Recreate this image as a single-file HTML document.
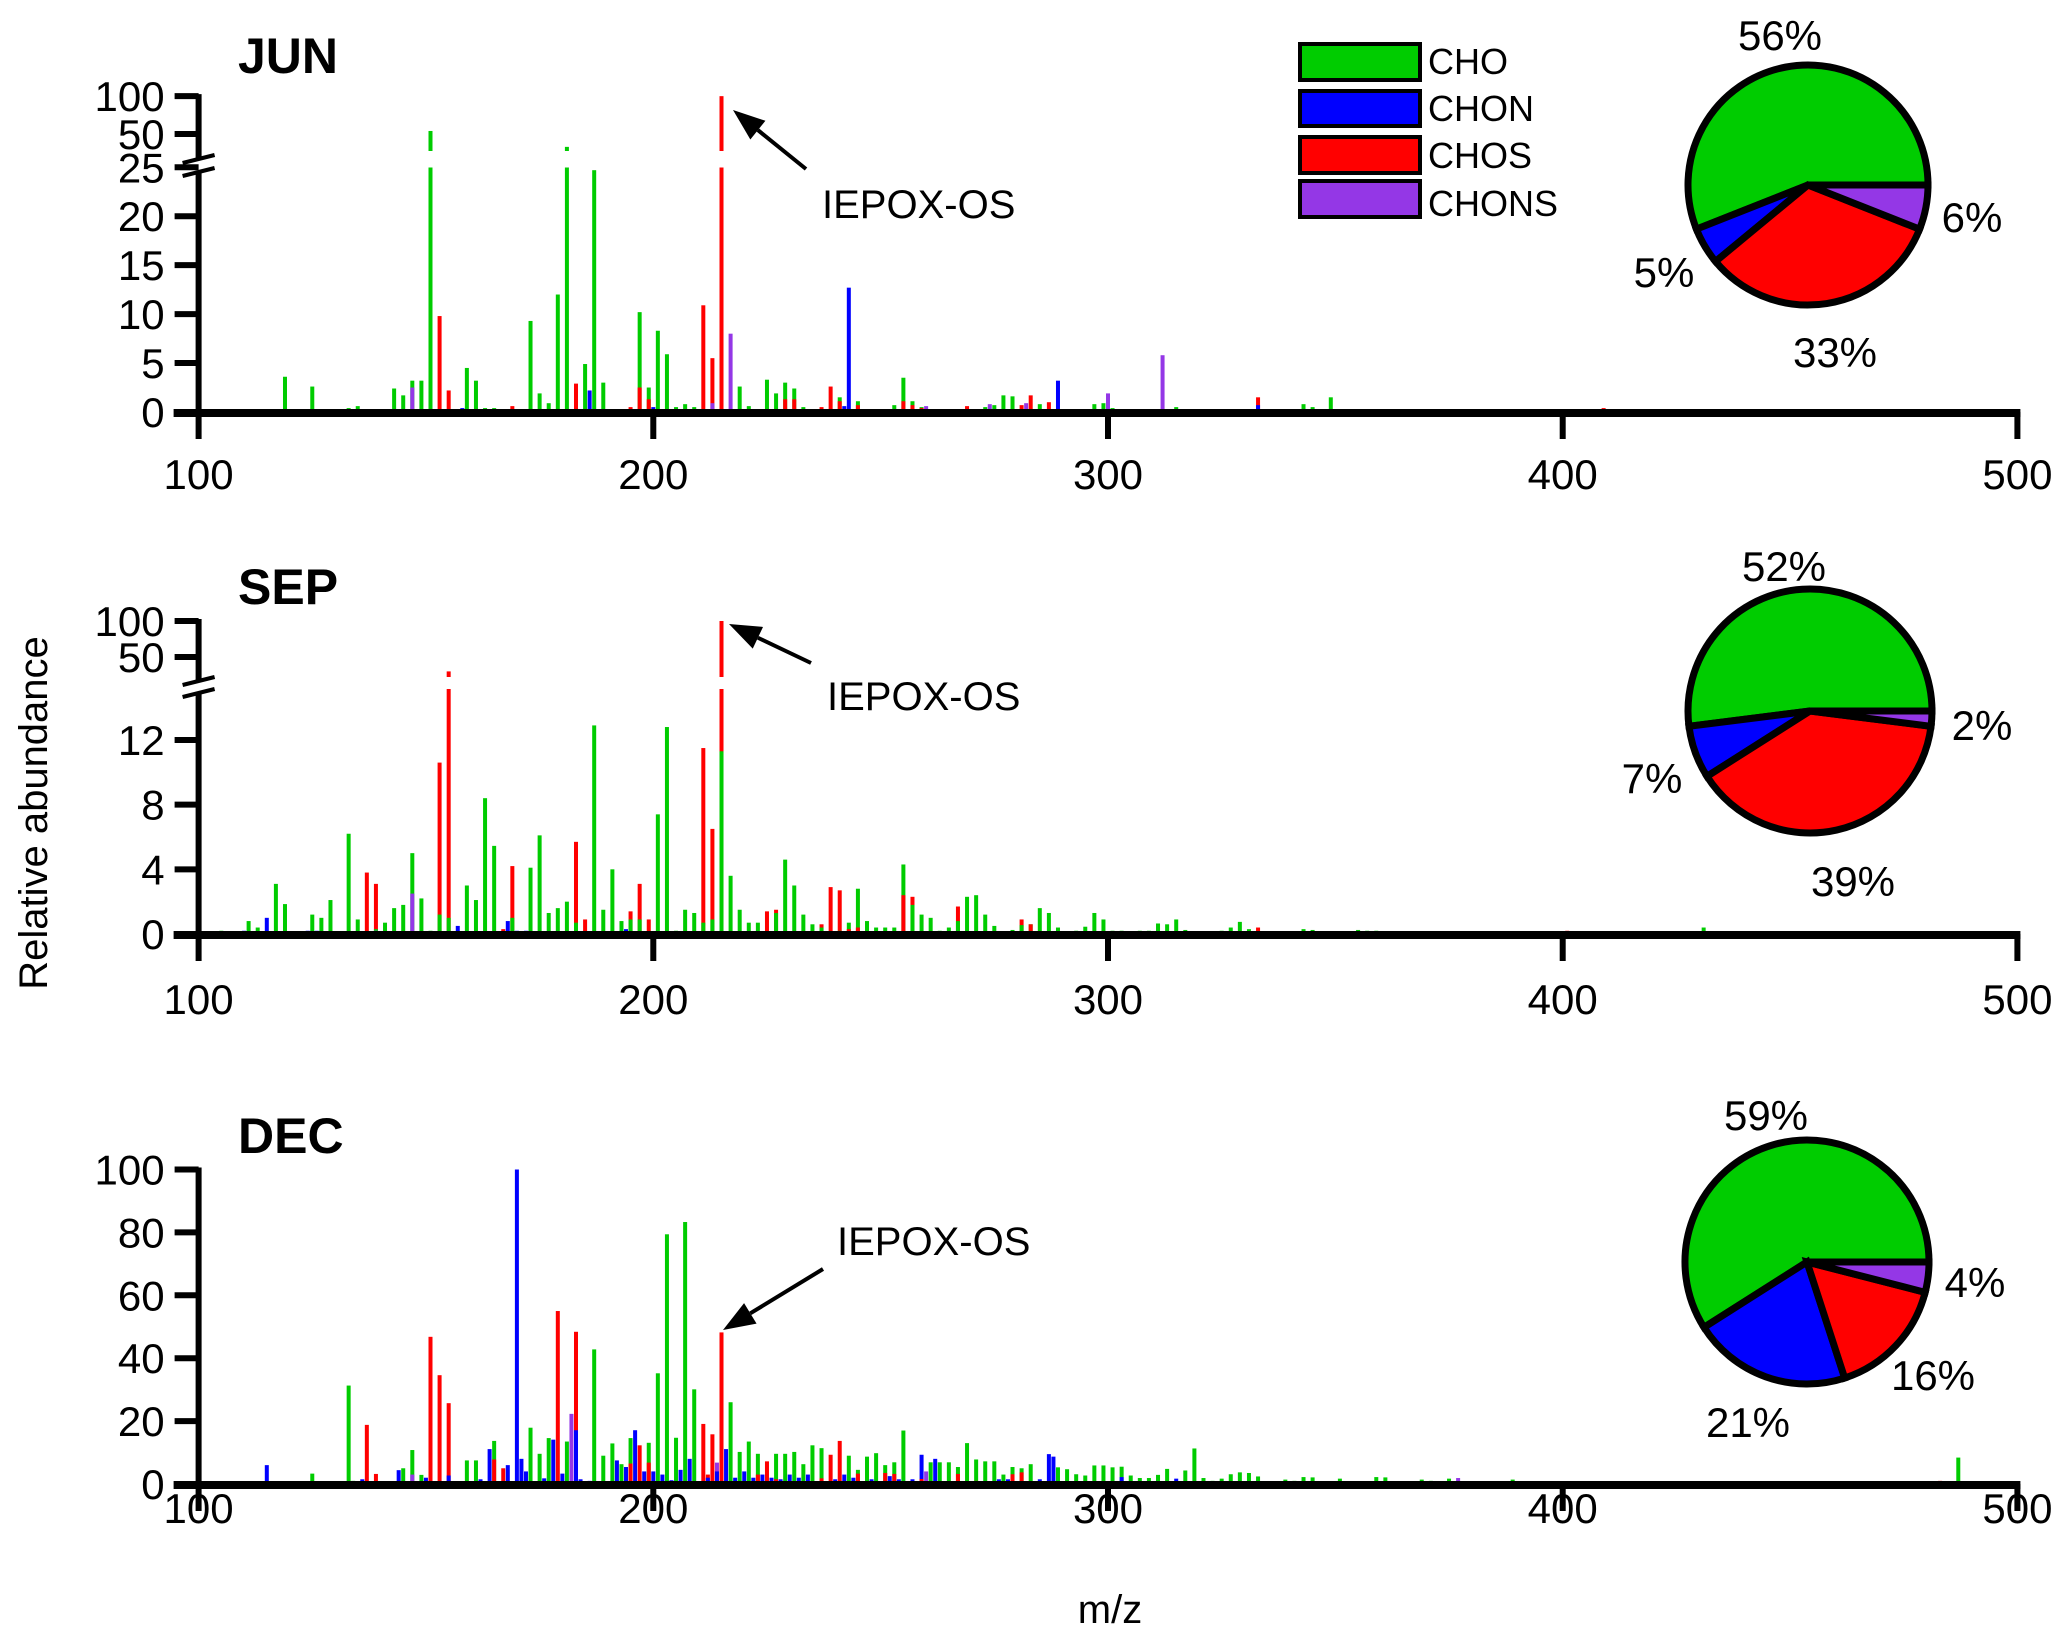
<!DOCTYPE html>
<html><head><meta charset="utf-8">
<style>
html,body{margin:0;padding:0;background:#fff;}
svg{display:block;font-family:"Liberation Sans",Arial,sans-serif;}
</style></head>
<body>
<svg id="chart" width="2067" height="1639" viewBox="0 0 2067 1639" xmlns="http://www.w3.org/2000/svg">
<rect width="2067" height="1639" fill="#fff"/>
<g id="layer"></g>
<text x="0" y="0" font-size="40" transform="translate(47,813) rotate(-90)" text-anchor="middle">Relative abundance</text>
<text x="1110" y="1623" font-size="40" text-anchor="middle">m/z</text>
<g>
<rect x="1300" y="44" width="120" height="36" fill="#00cc00" stroke="#000" stroke-width="4"/>
<rect x="1300" y="91" width="120" height="35" fill="#0000ff" stroke="#000" stroke-width="4"/>
<rect x="1300" y="137" width="120" height="36" fill="#ff0000" stroke="#000" stroke-width="4"/>
<rect x="1300" y="181" width="120" height="36" fill="#9437e6" stroke="#000" stroke-width="4"/>
<text x="1428" y="74" font-size="36">CHO</text>
<text x="1428" y="121" font-size="36">CHON</text>
<text x="1428" y="168" font-size="36">CHOS</text>
<text x="1428" y="216" font-size="36">CHONS</text>
</g>
</svg>
<script>
// ---- data ----
const xTicks = [100, 200, 300, 400, 500];
const junCHOmz  = [119,125,133,135,143,145,147,149,151,159,161,163,165,173,175,177,179,181,185,187,189,191,193,197,199,201,203,205,207,209,219,221,225,227,229,231,233,241,245,247,253,255,257,259,273,275,277,279,285,297,299,301,311,315,331,343,345,349,361];
const junCHOval = [3.6,2.6,0.4,0.6,2.4,1.7,3.2,3.2,54,4.5,3.2,0.4,0.4,9.3,1.9,0.9,12,33,4.9,24.7,3,0.3,0.3,10.2,2.5,8.3,5.9,0.5,0.8,0.5,2.6,0.6,3.3,1.9,3,2.4,0.5,1.5,1.1,0.3,0.7,3.5,1.1,0.5,0.5,0.7,1.7,1.6,0.8,0.8,0.9,0.4,0.3,0.5,0.3,0.8,0.5,1.5,0.3];
const junCHONmz  = [158,186,200,242,243,263,289,333,359];
const junCHONval = [0.4,2.2,0.5,0.6,12.7,0.3,3.2,0.7,0.3];
const junCHOSmz  = [153,155,169,183,195,197,199,211,213,215,229,231,237,239,241,245,255,257,259,269,281,283,287,333,409,437];
const junCHOSval = [9.8,2.2,0.6,2.9,0.5,2.5,1.3,10.9,5.5,100,1.3,1.3,0.5,2.6,1.1,0.7,1.1,0.7,0.4,0.6,0.7,1.7,1.0,1.5,0.4,0.2];
const junCHONSmz  = [147,180,213,217,260,274,282,300,312];
const junCHONSval = [2.5,0.3,0.9,8,0.6,0.8,0.9,1.9,5.8];

const sepCHOmz  = [103,105,109,111,113,117,119,125,127,129,133,135,139,141,143,145,147,149,151,153,155,159,161,163,165,169,173,175,177,179,181,183,187,189,191,193,195,197,201,203,205,207,209,211,213,215,217,219,221,223,227,229,231,233,235,237,241,243,245,247,249,251,253,255,257,259,261,263,265,267,269,271,273,275,277,279,281,283,285,287,289,291,293,295,297,299,301,303,307,309,311,313,315,317,325,327,329,331,339,341,343,345,355,357,359,369,371,389,431];
const sepCHOval = [0.1,0.2,0.1,0.8,0.4,3.1,1.85,1.2,1.0,2.1,6.2,0.9,0.3,0.7,1.6,1.8,5.0,2.2,0.2,1.2,1.0,3.0,2.1,8.4,5.45,1.0,4.1,6.1,1.3,1.6,2.0,0.7,12.9,1.5,4.0,0.8,0.9,0.9,7.4,12.8,0.2,1.5,1.3,0.7,0.9,11.3,3.6,1.5,0.7,0.7,1.3,4.6,3.0,1.2,0.6,0.4,0.2,0.7,2.8,0.8,0.4,0.4,0.4,4.3,1.8,1.2,1.0,0.2,0.4,0.8,2.3,2.4,1.2,0.5,0.1,0.25,0.55,0.6,1.6,1.3,0.4,0.1,0.2,0.45,1.3,0.9,0.2,0.2,0.2,0.2,0.65,0.6,0.9,0.25,0.2,0.4,0.75,0.3,0.1,0.15,0.3,0.25,0.25,0.2,0.2,0.1,0.12,0.1,0.4];
const sepCHONmz  = [110,115,124,126,130,157,168,170,172,176,185,188,194,200,206,214,228,230,242,256];
const sepCHONval = [0.2,1.0,0.2,0.2,0.1,0.5,0.8,0.2,0.2,0.1,0.1,0.15,0.3,0.1,0.1,0.1,0.1,0.1,0.1,0.1];
const sepCHOSmz  = [137,139,153,155,167,169,183,185,195,197,199,211,213,215,225,227,237,239,241,243,245,255,257,267,281,283,333,401];
const sepCHOSval = [3.8,3.1,10.6,30,0.3,4.2,5.7,0.9,1.4,3.1,0.9,11.5,6.5,100,1.4,1.5,0.6,2.9,2.7,0.3,0.4,2.4,2.3,1.7,0.9,0.6,0.4,0.2];
const sepCHONSmz  = [139,147,299];
const sepCHONSval = [0.2,2.5,0.1];

const decCHOmz  = [125,133,134,145,147,149,159,161,165,173,175,177,181,187,189,191,193,195,199,201,203,205,207,209,217,219,221,223,227,229,231,233,235,237,243,245,247,249,251,253,255,261,263,265,267,269,271,273,275,277,279,281,283,289,291,293,295,297,299,301,303,305,307,309,311,313,317,319,321,323,325,327,329,331,333,335,337,339,341,343,345,349,351,353,355,359,361,367,369,371,375,381,389,401,487];
const decCHOval = [3.3,31.3,1,5.0,10.8,2.9,7.5,7.5,13.7,17.9,9.6,14.6,13.5,42.8,9,12.9,6.3,14.6,13.1,35.2,79.4,14.7,83.3,30.1,26,10.2,13.5,9.6,9.6,9.6,10.2,6.3,12.3,11.4,9,4.5,8.7,9.8,6,6.9,17,6.9,6.9,6.9,5.4,13,7.8,7.2,7.2,3,5.4,5,6.3,5.3,4.7,3.1,2.7,5.9,5.9,5.3,5.5,2.7,1.9,1.9,2.9,4.8,4.3,11.3,1.9,1,1.7,3.1,3.7,3.5,2.4,0.8,0.8,1.4,1,2.2,2.1,0.8,1.7,0.5,0.5,2.2,2.1,0.5,1.4,1.0,1.7,0.5,1.4,0.5,8.4];
const decCHONmz  = [115,128,136,144,150,155,158,162,164,168,170,171,172,176,178,180,183,184,186,190,192,194,196,198,200,202,204,206,208,212,214,216,218,220,222,224,226,228,230,232,234,240,242,244,248,252,254,257,259,262,276,278,285,287,288,303,306,315];
const decCHONval = [6,0.5,1.5,4.4,2,2.7,0.5,1.5,11.1,6,100,8,4,1.8,14.1,3.3,17.1,1.5,1,0.8,7.5,5.4,17.1,4,4,3,1.2,4.5,8,2,4,11.1,2,4,2,3,2,1.5,3,2,3,1.5,3,2,1.5,2.5,1.5,1.5,9.3,8,1.5,1.5,1.5,9.5,8.7,2.2,0.5,1.7,6.3];
const decCHOSmz  = [137,139,151,153,155,165,167,179,183,195,197,199,211,212,213,215,223,225,227,237,239,241,245,251,253,259,267,271,279,281,295,303,451,465,483,493];
const decCHOSval = [18.8,3.2,46.8,34.6,25.7,7.8,5,55,48.4,6.5,12.3,6.8,19.1,3,15.8,48.2,3,7.2,1.5,1.8,9.3,13.7,3.3,3.5,3.2,1.6,3.2,1,3.1,3.7,0.8,0.8,0.3,0.8,1,0.8];
const decCHONSmz  = [147,182,214,260,377];
const decCHONSval = [3,22.3,6.8,4,1.9];

const pieLabels = ['CHO','CHON','CHOS','CHONS'];
const junPie = [56,5,33,6];
const sepPie = [52,7,39,2];
const decPie = [59,21,16,4];

// ---- drawing ----
const NS = 'http://www.w3.org/2000/svg';
const layer = document.getElementById('layer');
const colors = {CHO:'#00cc00', CHON:'#0000ff', CHOS:'#ff0000', CHONS:'#9437e6'};
const X0 = 198.6, XS = 4.547;
function xs(mz){ return X0 + (mz - 100) * XS; }
function mk(tag, attrs, parent){
  const e = document.createElementNS(NS, tag);
  for (const k in attrs) e.setAttribute(k, attrs[k]);
  (parent || layer).appendChild(e);
  return e;
}

const panels = [
 {id:'jun', title:'JUN', titleY:73, base:412, lowPer:9.79, lowMax:25, gapLo:167.5, gapHi:151, up50:134, upPer:0.757,
  yTicks:[0,5,10,15,20,25], upTicks:[50,100], xLabY:489, slashY:[161,174],
  data:[['CHO',junCHOmz,junCHOval],['CHON',junCHONmz,junCHONval],['CHOS',junCHOSmz,junCHOSval],['CHONS',junCHONSmz,junCHONSval]],
  pie:junPie, pc:[1808,185,120], lbl:[[1780,50],[1664,287],[1835,367],[1972,232]],
  iep:[822,218], arrow:[806,169,733,110]},
 {id:'sep', title:'SEP', titleY:604, base:934, lowPer:16.17, lowMax:15.2, gapLo:689, gapHi:677, up50:657, upPer:0.72,
  yTicks:[0,4,8,12], upTicks:[50,100], xLabY:1014, slashY:[683,695],
  data:[['CHO',sepCHOmz,sepCHOval],['CHON',sepCHONmz,sepCHONval],['CHOS',sepCHOSmz,sepCHOSval],['CHONS',sepCHONSmz,sepCHONSval]],
  pie:sepPie, pc:[1810,711,122], lbl:[[1784,581],[1652,793],[1853,896],[1982,740]],
  iep:[827,710], arrow:[811,663,729,624]},
 {id:'dec', title:'DEC', titleY:1153, base:1484, lowPer:3.145, lowMax:1000,
  yTicks:[0,20,40,60,80,100], upTicks:[], xLabY:1523, slashY:null,
  data:[['CHO',decCHOmz,decCHOval],['CHON',decCHONmz,decCHONval],['CHOS',decCHOSmz,decCHOSval],['CHONS',decCHONSmz,decCHONSval]],
  pie:decPie, pc:[1807,1262,122], lbl:[[1766,1130],[1748,1437],[1933,1390],[1975,1297]],
  iep:[837,1255], arrow:[823,1269,723,1330]}
];

panels.forEach(p => {
  const g = mk('g', {});
  
  
  const t = mk('text', {x:238, y:p.titleY, 'font-size':50, 'font-weight':'bold'}, g);
  t.textContent = p.title;
  
  

  // bars
  const bars = [];
  p.data.forEach(([cls, mzs, vals]) => mzs.forEach((m, i) => bars.push({cls, m, v: vals[i]})));
  bars.sort((a, b) => b.v - a.v);
  const bg = mk('g', {}, g);
  
  
  bars.forEach(b => {
    const x = xs(b.m) - 2;
    const c = colors[b.cls];
    if (b.v > p.lowMax) {
      const r1 = mk('rect', {x, y:p.gapLo, width:4, height:p.base - p.gapLo, fill:c}, bg);
      
      
      const yt = p.up50 - (b.v - 50) * p.upPer;
      const r2 = mk('rect', {x, y:yt, width:4, height:Math.max(1, p.gapHi - yt), fill:c}, bg);
      
      
    } else {
      const h = Math.max(1, b.v * p.lowPer);
      const r = mk('rect', {x, y:p.base - h, width:4, height:h, fill:c}, bg);
      
      
    }
  });

  // axes
  const topY = p.upTicks.length ? p.up50 - 50 * p.upPer : p.base - 100 * p.lowPer;
  const ax = mk('g', {stroke:'#000', 'stroke-width':6, fill:'none'}, g);
  
  
  if (p.slashY) {
    mk('line', {x1:X0, y1:topY - 2, x2:X0, y2:p.slashY[0] - 3}, ax);
    mk('line', {x1:X0, y1:p.slashY[1] - 3, x2:X0, y2:p.base + 4}, ax);
    mk('line', {x1:X0 - 16, y1:p.slashY[0] + 2, x2:X0 + 16, y2:p.slashY[0] - 6, 'stroke-width':4}, ax);
    mk('line', {x1:X0 - 16, y1:p.slashY[1] + 2, x2:X0 + 16, y2:p.slashY[1] - 6, 'stroke-width':4}, ax);
  } else {
    mk('line', {x1:X0, y1:topY - 2, x2:X0, y2:p.base + 4}, ax);
  }
  const xa = mk('g', {stroke:'#000', fill:'none'}, g);
  
  
  mk('line', {x1:X0 - 25, y1:p.base + 1, x2:xs(500) + 3, y2:p.base + 1, 'stroke-width':8}, xa);
  xTicks.forEach(v => {
    mk('line', {x1:xs(v), y1:p.base, x2:xs(v), y2:p.base + 27, 'stroke-width':6}, xa);
    const tl = mk('text', {x:xs(v), y:p.xLabY, 'font-size':42, 'text-anchor':'middle', stroke:'none', fill:'#000'}, xa);
    tl.textContent = v;
    
    
  });
  const yTickPos = [];
  p.yTicks.forEach(v => yTickPos.push([v, p.base - v * p.lowPer]));
  p.upTicks.forEach(v => yTickPos.push([v, p.up50 - (v - 50) * p.upPer]));
  yTickPos.forEach(([v, y]) => {
    mk('line', {x1:X0 - 24, y1:y, x2:X0, y2:y, 'stroke-width':6}, ax);
    const tl = mk('text', {x:X0 - 34, y:y + 15, 'font-size':42, 'text-anchor':'end', stroke:'none', fill:'#000'}, g);
    tl.textContent = v;
    
    
  });

  // annotation
  const an = mk('text', {x:p.iep[0], y:p.iep[1], 'font-size':40}, g);
  an.textContent = 'IEPOX-OS';
  
  
  const [ax1, ay1, ax2, ay2] = p.arrow;
  const ang = Math.atan2(ay2 - ay1, ax2 - ax1);
  const hl = 32, hw = 12;
  const bx = ax2 - hl * Math.cos(ang), by = ay2 - hl * Math.sin(ang);
  const ar = mk('g', {}, g);
  
  
  mk('line', {x1:ax1, y1:ay1, x2:bx, y2:by, stroke:'#000', 'stroke-width':4}, ar);
  mk('polygon', {points:`${ax2},${ay2} ${bx + hw*Math.sin(ang)},${by - hw*Math.cos(ang)} ${bx - hw*Math.sin(ang)},${by + hw*Math.cos(ang)}`, fill:'#000'}, ar);

  // pie
  const [cx, cy, r] = p.pc;
  const pg = mk('g', {}, g);
  
  
  const tot = p.pie.reduce((a, b) => a + b, 0);
  let a0 = 0;
  p.pie.forEach((v, i) => {
    const a1 = a0 + v / tot * 2 * Math.PI;
    const x0 = cx + r * Math.cos(a0), y0 = cy - r * Math.sin(a0);
    const x1 = cx + r * Math.cos(a1), y1 = cy - r * Math.sin(a1);
    const large = (a1 - a0) > Math.PI ? 1 : 0;
    const s = mk('path', {d:`M${cx},${cy} L${x0},${y0} A${r},${r} 0 ${large} 0 ${x1},${y1} Z`, fill:colors[pieLabels[i]], stroke:'#000', 'stroke-width':7, 'stroke-linejoin':'miter'}, pg);
    
    
    const lt = mk('text', {x:p.lbl[i][0], y:p.lbl[i][1], 'font-size':42, 'text-anchor':'middle'}, pg);
    lt.textContent = v + '%';
    
    
    a0 = a1;
  });
});
</script>
</body></html>
